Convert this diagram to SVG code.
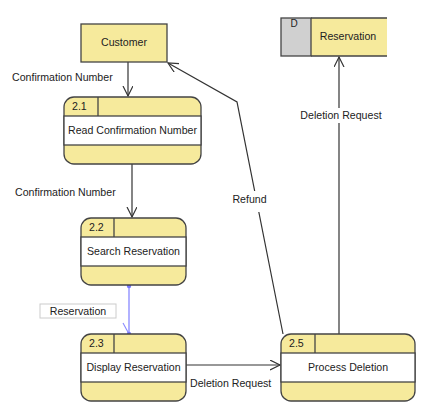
<svg xmlns="http://www.w3.org/2000/svg" width="442" height="415" viewBox="0 0 442 415">
<style>
text{font-family:"Liberation Sans",Arial,sans-serif;font-size:10.6px;fill:#222}
.c{text-anchor:middle}
.box{fill:#F6EA9C;stroke:#444;stroke-width:1.3}
.mid{fill:#fff;stroke:#444;stroke-width:1.3}
.ln{stroke:#444;stroke-width:1.3;fill:none}
.flow{stroke:#333;stroke-width:1.2;fill:none}
.id{font-size:10.6px}
.bg{fill:#fff}
</style>
<defs>
<marker id="ah" markerWidth="12" markerHeight="12" refX="10" refY="5" orient="auto" markerUnits="userSpaceOnUse">
<path d="M0,0 L10,5 L0,10" fill="none" stroke="#333" stroke-width="1.2"/>
</marker>
</defs>
<rect width="442" height="415" fill="#fff"/>
<g id="connectors">
<line class="flow" x1="128" y1="62" x2="128" y2="96" marker-end="url(#ah)"/>
<line class="flow" x1="132" y1="164" x2="132" y2="217" marker-end="url(#ah)"/>
<line x1="129" y1="285" x2="129" y2="334" stroke="#8888ff" stroke-width="1.3"/>
<line x1="123" y1="323" x2="129" y2="334" stroke="#8888ff" stroke-width="1.1"/>
<circle cx="129" cy="286" r="2.2" fill="#7777ff"/>
<circle cx="129" cy="334" r="2.2" fill="#7777ff"/>
<line class="flow" x1="186" y1="365" x2="280" y2="365" marker-end="url(#ah)"/>
<line class="flow" x1="339" y1="334" x2="339" y2="57" marker-end="url(#ah)"/>
<polyline class="flow" points="283,334 237,102 168,63" marker-end="url(#ah)"/>
<text x="12" y="81">Confirmation Number</text>
<text x="15" y="196">Confirmation Number</text>
<rect x="40" y="304" width="76" height="14" fill="#fff" stroke="#ccc" stroke-width="1"/>
<text x="78" y="315" class="c">Reservation</text>
<text x="190" y="387">Deletion Request</text>
<rect class="bg" x="299" y="108" width="84" height="15"/>
<text x="341" y="119" class="c">Deletion Request</text>
<rect class="bg" x="230" y="191" width="39" height="21"/>
<text x="249.5" y="203" class="c">Refund</text>
</g>
<g id="customer">
<rect class="box" x="81" y="24" width="86" height="38"/>
<text x="124" y="46" class="c">Customer</text>
</g>
<g id="store">
<rect x="281" y="18" width="106" height="38" fill="#F6EA9C"/>
<rect x="281" y="18" width="30" height="38" fill="#D0D0D0" stroke="#444" stroke-width="1.3"/>
<path class="ln" d="M311,18 H387 M311,56 H387"/>
<text x="294" y="27" class="c" style="font-size:10px">D</text>
<text x="348" y="40" class="c">Reservation</text>
</g>
<g id="p21">
<rect class="box" x="64" y="97" width="137" height="67" rx="10"/>
<rect class="mid" x="64" y="116" width="137" height="29"/>
<line class="ln" x1="98" y1="97" x2="98" y2="116"/>
<text x="72" y="110" class="id">2.1</text>
<text x="132.5" y="134" class="c">Read Confirmation Number</text>
</g>
<g id="p22">
<rect class="box" x="81" y="218" width="105" height="67" rx="10"/>
<rect class="mid" x="81" y="237" width="105" height="29"/>
<line class="ln" x1="114" y1="218" x2="114" y2="237"/>
<text x="89" y="231" class="id">2.2</text>
<text x="133.5" y="255" class="c">Search Reservation</text>
</g>
<g id="p23">
<rect class="box" x="81" y="334" width="105" height="67" rx="10"/>
<rect class="mid" x="81" y="353" width="105" height="29"/>
<line class="ln" x1="114" y1="334" x2="114" y2="353"/>
<text x="89" y="347" class="id">2.3</text>
<text x="133.5" y="371" class="c">Display Reservation</text>
</g>
<g id="p25">
<rect class="box" x="281" y="334" width="134" height="67" rx="10"/>
<rect class="mid" x="281" y="353" width="134" height="29"/>
<line class="ln" x1="315" y1="334" x2="315" y2="353"/>
<text x="289" y="347" class="id">2.5</text>
<text x="348" y="371" class="c">Process Deletion</text>
</g>
</svg>
